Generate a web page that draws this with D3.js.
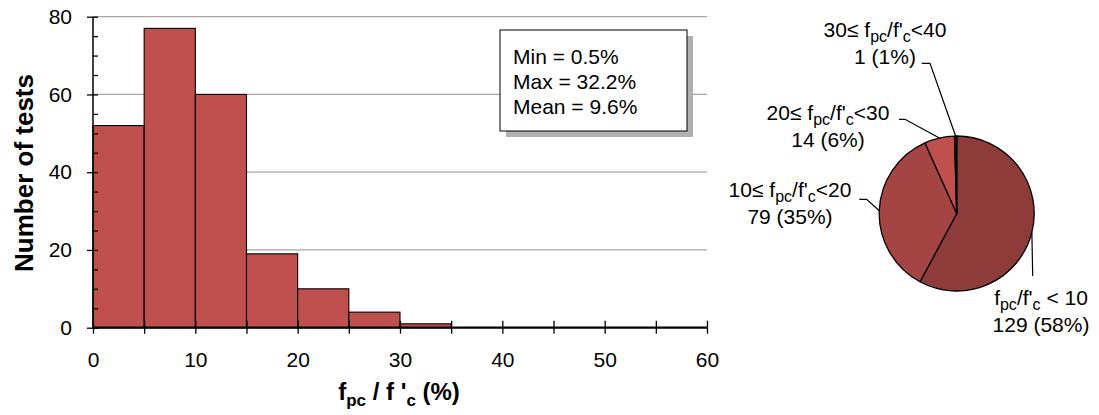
<!DOCTYPE html>
<html>
<head>
<meta charset="utf-8">
<script src="https://cdn.jsdelivr.net/npm/d3@7"></script>
<style>
  body { margin: 0; background: #fff; }
  svg { display: block; font-family: "Liberation Sans", Arial, sans-serif; }
</style>
</head>
<body>
<script>
// --- Data ---
const binStarts = [0, 5, 10, 15, 20, 25, 30];
const binCounts = [52, 77, 60, 19, 10, 4, 1];
const binWidth = 5;
const yTicks = [0, 20, 40, 60, 80];
const xTicks = [0, 10, 20, 30, 40, 50, 60];
const statLines = ["Min = 0.5%", "Max = 32.2%", "Mean = 9.6%"];

const pieValues = [129, 79, 14, 1];
const pieRanges = [
  [["f", "pc", "/f'", "c", " < 10"]],
  [["10\u2264 f", "pc", "/f'", "c", "<20"]],
  [["20\u2264 f", "pc", "/f'", "c", "<30"]],
  [["30\u2264 f", "pc", "/f'", "c", "<40"]]
];
const pieCounts = ["129 (58%)", "79 (35%)", "14 (6%)", "1 (1%)"];
const pieColors = ["#8e3c3a", "#a54543", "#c0504d", "#5a1e1e"];

// --- Setup ---
const W = 1099, H = 415;
const svg = d3.select("body").append("svg").attr("width", W).attr("height", H);

const x = d3.scaleLinear().domain([0, 60]).range([93, 707]);
const y = d3.scaleLinear().domain([0, 80]).range([327.7, 16.7]);

// Gridlines
svg.append("g").selectAll("line").data(yTicks.filter(d => d > 0)).join("line")
  .attr("x1", x(0)).attr("x2", x(60))
  .attr("y1", d => y(d)).attr("y2", d => y(d))
  .attr("stroke", "#a6a6a6").attr("stroke-width", 1.3);

// Bars
svg.append("g").selectAll("rect").data(binStarts).join("rect")
  .attr("x", d => x(d)).attr("width", x(binWidth) - x(0))
  .attr("y", (d, i) => y(binCounts[i]))
  .attr("height", (d, i) => y(0) - y(binCounts[i]))
  .attr("fill", "#c0504d").attr("stroke", "#000").attr("stroke-width", 1.1);

// Y axis: outer major ticks + labels, inner minor ticks
const yAxisG = svg.append("g").attr("transform", `translate(${x(0)},0)`)
  .call(d3.axisLeft(y).tickValues(yTicks).tickSize(6).tickPadding(15));
svg.append("g").attr("transform", `translate(${x(0)},0)`)
  .call(d3.axisRight(y).tickValues(d3.range(0, 81, 5)).tickSize(5).tickFormat(""))
  .call(g => g.select(".domain").remove());
yAxisG.select(".domain").attr("d", `M0,${y(80)}V${y(0)}`).attr("stroke-width", 1.5);
yAxisG.selectAll("text").attr("font-size", 21).attr("font-family", null).attr("fill", "#000");

// X axis: crossing ticks at every 5
const xAxisG = svg.append("g").attr("transform", `translate(0,${y(0)})`)
  .call(d3.axisBottom(x).tickValues(xTicks).tickSize(6).tickPadding(18));
svg.append("g").attr("transform", `translate(0,${y(0)})`)
  .call(d3.axisTop(x).tickValues(d3.range(0, 61, 5)).tickSize(7).tickFormat(""))
  .call(g => g.select(".domain").remove());
svg.append("g").attr("transform", `translate(0,${y(0)})`)
  .call(d3.axisBottom(x).tickValues(d3.range(5, 60, 10)).tickSize(6).tickFormat(""))
  .call(g => g.select(".domain").remove());
xAxisG.select(".domain").attr("d", `M${x(0)},0H${x(60)}`).attr("stroke-width", 2.2);
xAxisG.selectAll("text").attr("font-size", 21).attr("font-family", null).attr("fill", "#000");
svg.selectAll(".tick line").attr("stroke-width", 1.3);

// Axis titles
svg.append("text")
  .attr("transform", "translate(33,173) rotate(-90)")
  .attr("text-anchor", "middle").attr("font-size", 26).attr("font-weight", "bold")
  .text("Number of tests");

const xt = svg.append("text")
  .attr("x", 399).attr("y", 400)
  .attr("text-anchor", "middle").attr("font-size", 24).attr("font-weight", "bold");
xt.append("tspan").text("f");
xt.append("tspan").attr("dy", 6).attr("font-size", 17).text("pc");
xt.append("tspan").attr("dy", -6).text(" / f '");
xt.append("tspan").attr("dy", 6).attr("font-size", 17).text("c");
xt.append("tspan").attr("dy", -6).text(" (%)");

// Stats box
const box = { x: 500, y: 30, w: 187, h: 101 };
svg.append("rect")
  .attr("x", box.x + 6).attr("y", box.y + 6).attr("width", box.w).attr("height", box.h)
  .attr("fill", "#b0b0b0");
svg.append("rect")
  .attr("x", box.x).attr("y", box.y).attr("width", box.w).attr("height", box.h)
  .attr("fill", "#fff").attr("stroke", "#000").attr("stroke-width", 1);
svg.append("g").selectAll("text").data(statLines).join("text")
  .attr("x", box.x + 13).attr("y", (d, i) => 64 + i * 25)
  .attr("font-size", 21).text(d => d);

// --- Pie ---
const cx = 956.7, cy = 213.5, R = 77.5;
const pie = d3.pie().sort(null).value(d => d);
const arcs = pie(pieValues);
const arc = d3.arc().innerRadius(0).outerRadius(R);
const edgeArc = d3.arc().innerRadius(R).outerRadius(R);

const gPie = svg.append("g").attr("transform", `translate(${cx},${cy})`);
gPie.selectAll("path").data(arcs).join("path")
  .attr("d", arc)
  .attr("fill", (d, i) => pieColors[i])
  .attr("stroke", "#000").attr("stroke-width", 1.3).attr("stroke-linejoin", "round");

// label layout (positions of each label block and its leader elbow)
const labelPos = [
  { x: 1041, y: 305, elbow: [[1032.7, 276]] },
  { x: 790, y: 197, elbow: [[859.3, 199.3], [866.7, 199.3]] },
  { x: 828, y: 120, elbow: [[899, 119.3], [905, 119.3]] },
  { x: 885, y: 37, elbow: [[921.7, 63.3], [930, 63.3]] }
];

arcs.forEach((a, i) => {
  const [ex, ey] = edgeArc.centroid(a);
  const p = labelPos[i];
  const pts = p.elbow.concat([[cx + ex, cy + ey]]);
  svg.append("path")
    .attr("d", d3.line()(pts))
    .attr("fill", "none").attr("stroke", "#000").attr("stroke-width", 1.2);

  const t = svg.append("text").attr("x", p.x).attr("y", p.y)
    .attr("text-anchor", "middle").attr("font-size", 21);
  const parts = pieRanges[i][0];
  t.append("tspan").text(parts[0]);
  t.append("tspan").attr("dy", 5).attr("font-size", 16).text(parts[1]);
  t.append("tspan").attr("dy", -5).text(parts[2]);
  t.append("tspan").attr("dy", 5).attr("font-size", 16).text(parts[3]);
  t.append("tspan").attr("dy", -5).text(parts[4]);

  svg.append("text").attr("x", p.x).attr("y", p.y + 26.5)
    .attr("text-anchor", "middle").attr("font-size", 21).text(pieCounts[i]);
});
</script>
</body>
</html>
